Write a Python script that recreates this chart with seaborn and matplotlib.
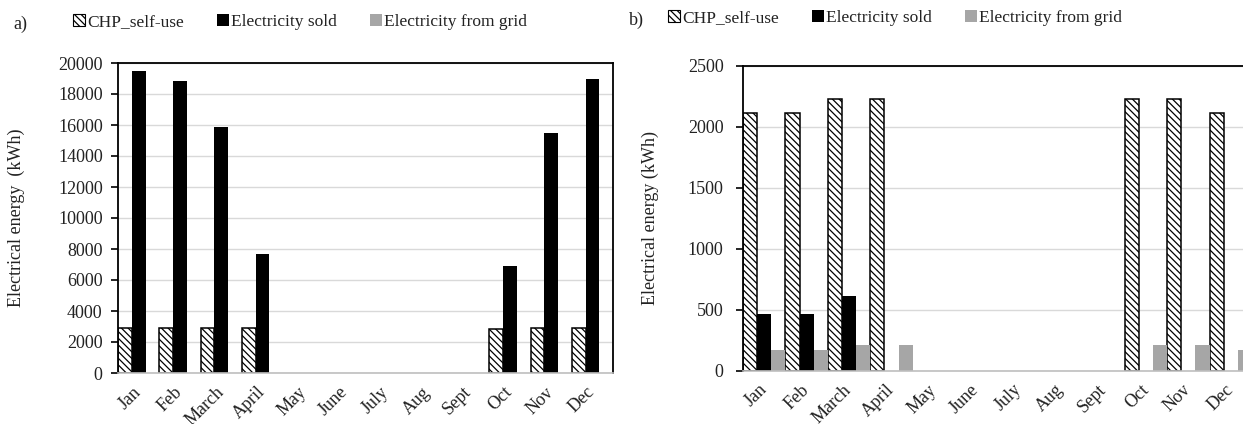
import pandas as pd
import seaborn as sns
import matplotlib.pyplot as plt
from matplotlib.patches import Patch

# data (kWh per month)
months = ["Jan", "Feb", "March", "April", "May", "June",
          "July", "Aug", "Sept", "Oct", "Nov", "Dec"]
series = ["CHP_self-use", "Electricity sold", "Electricity from grid"]

a_chp = [2900, 2900, 2900, 2900, 0, 0, 0, 0, 0, 2850, 2900, 2900]
a_sold = [19500, 18850, 15900, 7700, 0, 0, 0, 0, 0, 6900, 15500, 18950]
a_grid = [0, 0, 0, 0, 0, 0, 0, 0, 0, 0, 0, 0]

b_chp = [2115, 2115, 2230, 2230, 0, 0, 0, 0, 0, 2230, 2230, 2115]
b_sold = [465, 465, 615, 0, 0, 0, 0, 0, 0, 0, 0, 0]
b_grid = [172, 172, 213, 213, 0, 0, 0, 0, 0, 213, 213, 172]

colors = ["white", "black", "#A6A6A6"]
HATCH = "\\\\\\\\\\"

sns.set_theme(style="white")
plt.rcParams["font.family"] = ["Liberation Serif", "DejaVu Serif"]
plt.rcParams["hatch.linewidth"] = 0.9
FS = 13


def long_form(chp, sold, grid):
    df = pd.DataFrame({"month": months, series[0]: chp, series[1]: sold, series[2]: grid})
    return df.melt(id_vars="month", var_name="series", value_name="kwh")


def draw_panel(ax, df, ymax, ystep, ylabel, label_x, ypad, right_spine=True):
    sns.barplot(data=df, x="month", y="kwh", hue="series", order=months,
                hue_order=series, palette=colors, width=1.0, gap=0,
                errorbar=None, saturation=1, linewidth=0, ax=ax)
    ax.legend_.remove()
    chp_bars = ax.containers[0]
    for bar in chp_bars:
        bar.set_hatch(HATCH)
        bar.set_edgecolor("black")
        bar.set_linewidth(1.1 if bar.get_height() > 0 else 0)

    ax.set_xlim(-0.5, 11.5)
    ax.set_ylim(0, ymax)
    ax.set_yticks(range(0, ymax + 1, ystep))
    ax.yaxis.grid(True, color="#D9D9D9", lw=1)
    ax.set_axisbelow(True)

    for s in ["left", "top", "right"]:
        ax.spines[s].set_color("black")
        ax.spines[s].set_linewidth(1.3)
    ax.spines["right"].set_visible(right_spine)
    ax.spines["bottom"].set_color("#BFBFBF")
    ax.spines["bottom"].set_linewidth(1.2)

    ax.tick_params(axis="y", left=True, length=5, width=1.2, color="black",
                   labelsize=FS, pad=ypad, labelcolor="#222222")
    ax.tick_params(axis="x", bottom=False, labelsize=FS, pad=6, labelcolor="#222222")
    for t in ax.get_xticklabels():
        t.set_rotation(45)
        t.set_ha("right")
        t.set_va("center")
        t.set_rotation_mode("anchor")

    ax.set_xlabel("")
    ax.set_ylabel(ylabel, fontsize=FS, color="#222222")
    ax.yaxis.set_label_coords(label_x, 0.5)


fig = plt.figure(figsize=(12.43, 4.24), dpi=100)
W, H = 1243, 424
ax_a = fig.add_axes([118 / W, 51 / H, 495 / W, 310 / H])
ax_b = fig.add_axes([743 / W, 53.5 / H, 509 / W, 304.5 / H])

draw_panel(ax_a, long_form(a_chp, a_sold, a_grid), 20000, 2000,
           "Electrical energy  (kWh)", -0.188, 6)
draw_panel(ax_b, long_form(b_chp, b_sold, b_grid), 2500, 500,
           "Electrical energy (kWh)", -0.165, 9, right_spine=False)

handles = [Patch(facecolor="white", edgecolor="black", hatch=HATCH, linewidth=0.8),
           Patch(facecolor="black", edgecolor="black", linewidth=0),
           Patch(facecolor="#A6A6A6", edgecolor="#A6A6A6", linewidth=0)]
for cx, cy in [(300 / W, 1 - 22 / H), (895 / W, 1 - 18 / H)]:
    fig.legend(handles, series, ncol=3, loc="center", bbox_to_anchor=(cx, cy),
               frameon=False, fontsize=12.5, handlelength=0.7, handleheight=0.7,
               handletextpad=0.12, columnspacing=1.9, labelcolor="#222222")

fig.text(20 / W, 1 - 24 / H, "a)", fontsize=FS, ha="center", va="center", color="#222222")
fig.text(636 / W, 1 - 20 / H, "b)", fontsize=FS, ha="center", va="center", color="#222222")

fig.savefig("out.png", dpi=100)
